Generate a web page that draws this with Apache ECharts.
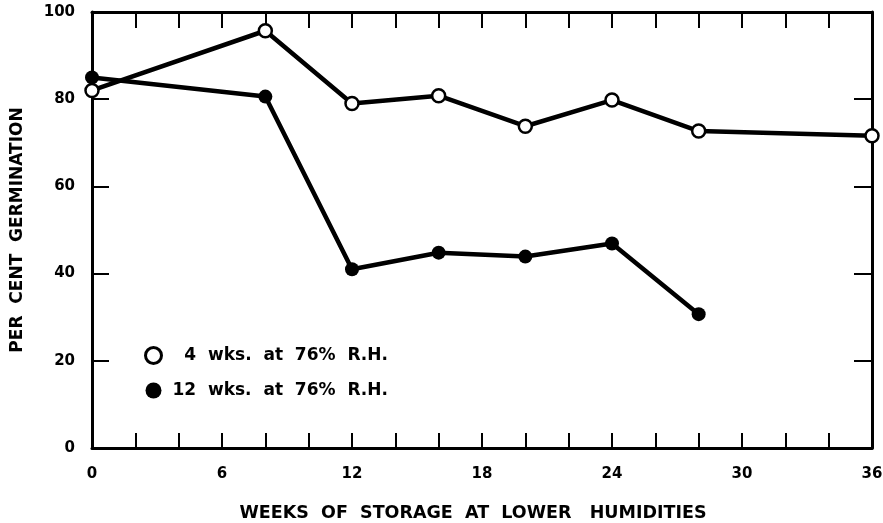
<!DOCTYPE html>
<html>
<head>
<meta charset="utf-8">
<script src="https://cdn.jsdelivr.net/npm/echarts@6/dist/echarts.min.js"></script>
<style>
  html, body { margin: 0; padding: 0; background: #fff; }
  #chart { width: 883px; height: 523px; }
</style>
</head>
<body>
<div id="chart"></div>
<script>
// weeks of storage at lower humidities
var weeks4 = [0, 8, 12, 16, 20, 24, 28, 36];
var germ4 = [82, 95.7, 79, 80.8, 73.8, 79.8, 72.7, 71.6];   // 4 wks at 76% RH
var weeks12 = [0, 8, 12, 16, 20, 24, 28];
var germ12 = [85, 80.6, 41, 44.8, 43.9, 46.9, 30.7];       // 12 wks at 76% RH
var seriesNames = ["4 wks. at 76% R.H.", "12 wks. at 76% R.H."];
var legendLabels = ["  4  wks.  at  76%  R.H.", "12  wks.  at  76%  R.H."];

function pairs(xs, ys) {
  var out = [];
  for (var i = 0; i < xs.length; i++) out.push([xs[i], ys[i]]);
  return out;
}

var chart = echarts.init(document.getElementById("chart"));
var font = "DejaVu Sans";
var axisLine = { onZero: false, lineStyle: { color: "#000", width: 3 } };

var option = {
  animation: false,
  backgroundColor: "#fff",
  grid: { left: 92, right: 11, top: 12, bottom: 75, outerBoundsMode: "none", containLabel: false },
  legend: {
    orient: "vertical",
    left: 139,
    top: 341,
    itemGap: 17,
    itemWidth: 16,
    itemHeight: 16,
    formatter: function (name) { return legendLabels[seriesNames.indexOf(name)]; },
    textStyle: { fontFamily: font, fontWeight: "bold", fontSize: 17, color: "#000", padding: [0, 0, 0, 6] },
    data: [
      { name: seriesNames[0], icon: "circle", itemStyle: { color: "#fff", borderColor: "#000", borderWidth: 3 } },
      { name: seriesNames[1], icon: "circle", itemStyle: { color: "#000", borderColor: "#000", borderWidth: 0 } }
    ]
  },
  xAxis: [
    {
      type: "value", min: 0, max: 36, interval: 2,
      name: "WEEKS  OF  STORAGE  AT  LOWER   HUMIDITIES",
      nameLocation: "middle", nameGap: 56,
      nameTextStyle: { fontFamily: font, fontWeight: "bold", fontSize: 17.5, color: "#000", padding: [0, 18, 0, 0] },
      axisLine: axisLine,
      axisTick: { inside: true, length: 15, lineStyle: { color: "#000", width: 2 } },
      axisLabel: {
        margin: 19, fontFamily: font, fontWeight: "bold", fontSize: 15, color: "#000",
        formatter: function (v) { return v % 6 === 0 ? String(v) : ""; }
      },
      splitLine: { show: false }
    },
    {
      type: "value", min: 0, max: 36, interval: 2, position: "top",
      axisLine: axisLine,
      axisTick: { inside: true, length: 16, lineStyle: { color: "#000", width: 2 } },
      axisLabel: { show: false },
      splitLine: { show: false }
    }
  ],
  yAxis: [
    {
      type: "value", min: 0, max: 100, interval: 20,
      name: "PER  CENT  GERMINATION",
      nameLocation: "middle", nameGap: 66, nameRotate: 90,
      nameTextStyle: { fontFamily: font, fontWeight: "bold", fontSize: 17, color: "#000" },
      axisLine: axisLine,
      axisTick: { inside: true, length: 17, lineStyle: { color: "#000", width: 2 } },
      axisLabel: { margin: 17, fontFamily: font, fontWeight: "bold", fontSize: 15, color: "#000" },
      splitLine: { show: false }
    },
    {
      type: "value", min: 0, max: 100, interval: 20, position: "right",
      axisLine: axisLine,
      axisTick: { inside: true, length: 18, lineStyle: { color: "#000", width: 2 } },
      axisLabel: { show: false },
      splitLine: { show: false }
    }
  ],
  series: [
    {
      name: seriesNames[0],
      type: "line",
      data: pairs(weeks4, germ4),
      symbol: "circle",
      symbolSize: 13,
      lineStyle: { color: "#000", width: 4.5 },
      itemStyle: { color: "#fff", borderColor: "#000", borderWidth: 2.5 },
      z: 3
    },
    {
      name: seriesNames[1],
      type: "line",
      data: pairs(weeks12, germ12),
      symbol: "circle",
      symbolSize: 14,
      lineStyle: { color: "#000", width: 4.5 },
      itemStyle: { color: "#000", borderColor: "#000", borderWidth: 0 },
      z: 2
    }
  ]
};

chart.setOption(option);
</script>
</body>
</html>
